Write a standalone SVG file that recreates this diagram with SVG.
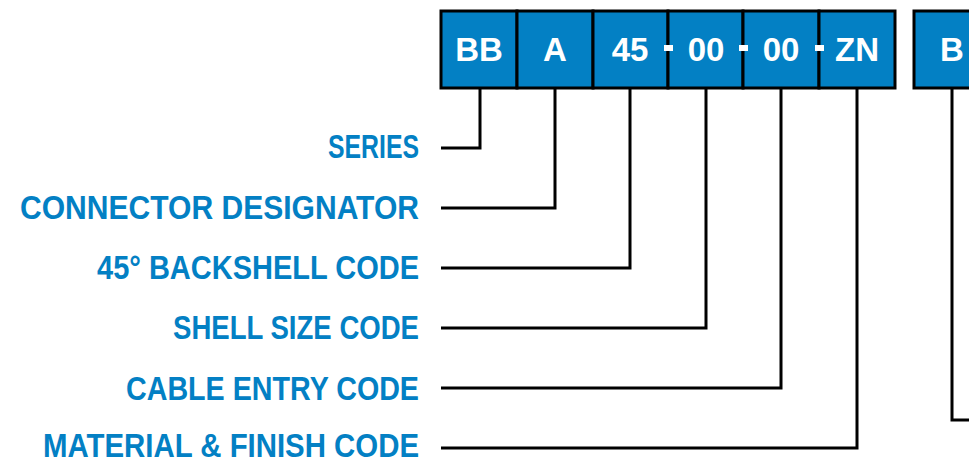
<svg xmlns="http://www.w3.org/2000/svg" width="969" height="464" viewBox="0 0 969 464">
<style>
.box{fill:#0380C4;stroke:#000;stroke-width:3}
.bt{font-family:"Liberation Sans",Arial,sans-serif;font-weight:bold;font-size:33px;fill:#fff;text-anchor:middle}
.lb{font-family:"Liberation Sans",Arial,sans-serif;font-weight:bold;font-size:33px;fill:#0380C4;text-anchor:end}
.ln{fill:none;stroke:#000;stroke-width:3}
.dash{fill:#fff}
</style>
<rect width="969" height="464" fill="#fff"/>
<g id="boxes">
<g id="box-bb"><rect class="box" x="441" y="11" width="76" height="77"/><text class="bt" x="479" y="61">BB</text></g>
<g id="box-a"><rect class="box" x="517" y="11" width="76" height="77"/><text class="bt" x="555" y="61">A</text></g>
<g id="box-45"><rect class="box" x="593" y="11" width="75" height="77"/><text class="bt" x="630" y="61">45</text></g>
<g id="box-00a"><rect class="box" x="668" y="11" width="75" height="77"/><text class="bt" x="706" y="61">00</text></g>
<g id="box-00b"><rect class="box" x="743" y="11" width="76" height="77"/><text class="bt" x="781" y="61">00</text></g>
<g id="box-zn"><rect class="box" x="819" y="11" width="76" height="77"/><text class="bt" x="857" y="61">ZN</text></g>
<g id="box-b"><rect class="box" x="914" y="11" width="76" height="77"/><text class="bt" x="952" y="61">B</text></g>
<rect class="dash" x="664" y="45" width="9" height="6"/>
<rect class="dash" x="739" y="45" width="9" height="6"/>
<rect class="dash" x="815" y="45" width="9" height="6"/>
</g>
<g id="connectors">
<polyline class="ln" points="441,148 480,148 480,88"/>
<polyline class="ln" points="441,208 555,208 555,88"/>
<polyline class="ln" points="441,268 630,268 630,88"/>
<polyline class="ln" points="441,328 706,328 706,88"/>
<polyline class="ln" points="441,388 781,388 781,88"/>
<polyline class="ln" points="441,448 857,448 857,88"/>
<polyline class="ln" points="952,88 952,420 972,420"/>
</g>
<g id="labels">
<g id="lbl-series"><text class="lb" x="419" y="158" textLength="91" lengthAdjust="spacingAndGlyphs">SERIES</text></g>
<g id="lbl-conn"><text class="lb" x="419" y="219" textLength="399" lengthAdjust="spacingAndGlyphs">CONNECTOR DESIGNATOR</text></g>
<g id="lbl-45"><text class="lb" x="419" y="279" textLength="322" lengthAdjust="spacingAndGlyphs">45° BACKSHELL CODE</text></g>
<g id="lbl-shell"><text class="lb" x="419" y="339" textLength="246" lengthAdjust="spacingAndGlyphs">SHELL SIZE CODE</text></g>
<g id="lbl-cable"><text class="lb" x="419" y="400" textLength="293" lengthAdjust="spacingAndGlyphs">CABLE ENTRY CODE</text></g>
<g id="lbl-mat"><text class="lb" x="419" y="457" textLength="376" lengthAdjust="spacingAndGlyphs">MATERIAL &amp; FINISH CODE</text></g>
</g>
</svg>
